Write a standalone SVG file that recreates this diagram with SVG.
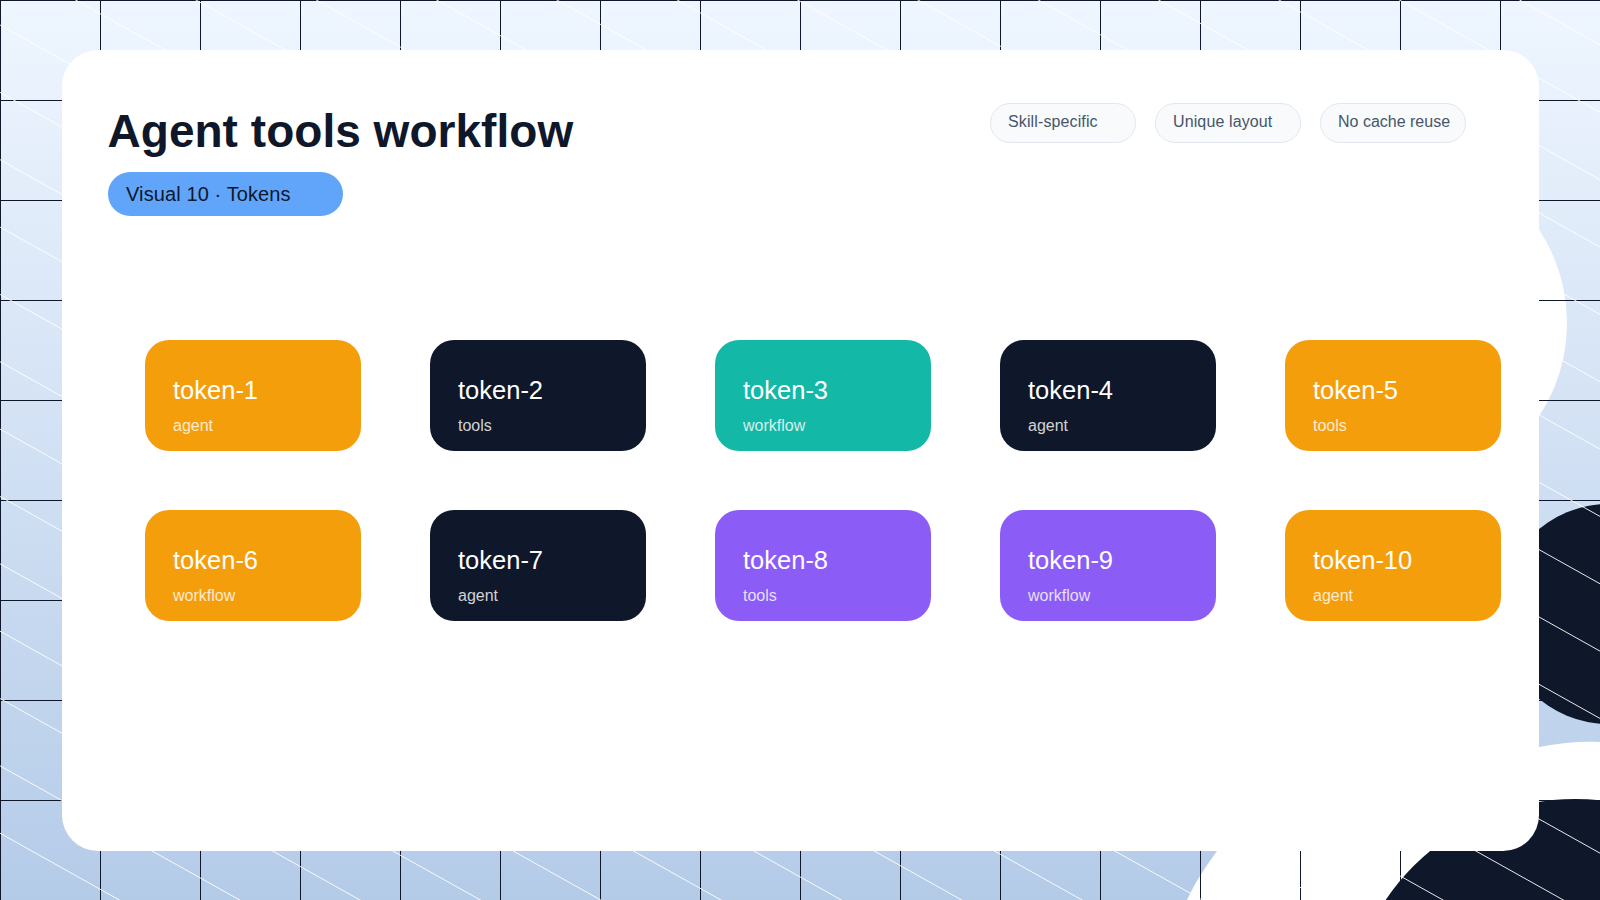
<svg xmlns="http://www.w3.org/2000/svg" width="1600" height="900" viewBox="0 0 1600 900">
<style>
text{font-family:"Liberation Sans",Arial,sans-serif}
.title{font-size:46px;font-weight:700;fill:#0f172a;letter-spacing:.03px}
.badge{font-size:20px;fill:#0f172a;letter-spacing:.11px}
.chip rect{fill:#f8fafc;stroke:#e2e8f0;stroke-width:1}
.chip text{font-size:16px;fill:#475569;letter-spacing:.12px}
.token rect{width:216px;height:111px;rx:24px;ry:24px}
.token .name{font-size:25.5px;fill:#fff}
.token .sub{font-size:16px;fill:#fff;fill-opacity:.82}
.orange rect{fill:#f59e0b}
.navy rect{fill:#0f172a}
.teal rect{fill:#14b8a6}
.violet rect{fill:#8b5cf6}
</style>
<defs>
<linearGradient id="bg" x1="0" y1="0" x2="0" y2="1"><stop offset="0" stop-color="#eff6ff"/><stop offset="1" stop-color="#b4cbe8"/></linearGradient>
<pattern id="grid" width="100" height="100" patternUnits="userSpaceOnUse"><path d="M.5 0V100M0 .5H100" fill="none" stroke="#0f172a" stroke-width="1"/></pattern>
</defs>
<g id="background">
<rect width="1600" height="900" fill="url(#bg)"/>
<circle cx="1397" cy="323" r="170" fill="#fff"/>
<circle cx="1609" cy="614" r="110" fill="#0f172a"/>
<path d="M1300 790L1539 747Q1570 741 1600 742V900H1187C1195 882 1205 868 1217 851Z" fill="#fff"/>
<circle cx="1575" cy="1027" r="228" fill="#0f172a"/>
<rect width="1600" height="900" fill="url(#grid)"/>
<path fill="none" stroke="#fff" stroke-width="1" stroke-opacity=".9" d="M0 -917.9L1600 -22.4M0 -850.55L1600 44.95M0 -783.2L1600 112.3M0 -715.85L1600 179.65M0 -648.5L1600 247M0 -581.15L1600 314.35M0 -513.8L1600 381.7M0 -446.45L1600 449.05M0 -379.1L1600 516.4M0 -311.75L1600 583.75M0 -244.4L1600 651.1M0 -177.05L1600 718.45M0 -109.7L1600 785.8M0 -42.35L1600 853.15M0 25L1600 920.5M0 92.35L1600 987.85M0 159.7L1600 1055.2M0 227.05L1600 1122.55M0 294.4L1600 1189.9M0 361.75L1600 1257.25M0 429.1L1600 1324.6M0 496.45L1600 1391.95M0 563.8L1600 1459.3M0 631.15L1600 1526.65M0 698.5L1600 1594M0 765.85L1600 1661.35M0 833.2L1600 1728.7"/>
</g>
<rect id="panel" x="62" y="50" width="1477" height="801" rx="36" ry="36" fill="#fff"/>
<g id="header">
<text class="title" x="107.500" y="147">Agent tools workflow</text>
<g id="badge"><rect x="108" y="172" width="235" height="44" rx="22" ry="22" fill="#60a5fa"/><text class="badge" x="126" y="201">Visual 10 · Tokens</text></g>
</g>
<g id="chip-1" class="chip"><rect x="990.500" y="103.500" width="145" height="39" rx="19.500"/><text x="1008" y="127">Skill-specific</text></g>
<g id="chip-2" class="chip"><rect x="1155.500" y="103.500" width="145" height="39" rx="19.500"/><text x="1173" y="127">Unique layout</text></g>
<g id="chip-3" class="chip"><rect x="1320.500" y="103.500" width="145" height="39" rx="19.500"/><text x="1338" y="127" style="letter-spacing:0">No cache reuse</text></g>
<g id="token-1" class="token orange"><rect x="145" y="340"/><text class="name" x="173" y="399">token-1</text><text class="sub" x="173" y="431">agent</text></g>
<g id="token-2" class="token navy"><rect x="430" y="340"/><text class="name" x="458" y="399">token-2</text><text class="sub" x="458" y="431">tools</text></g>
<g id="token-3" class="token teal"><rect x="715" y="340"/><text class="name" x="743" y="399">token-3</text><text class="sub" x="743" y="431">workflow</text></g>
<g id="token-4" class="token navy"><rect x="1000" y="340"/><text class="name" x="1028" y="399">token-4</text><text class="sub" x="1028" y="431">agent</text></g>
<g id="token-5" class="token orange"><rect x="1285" y="340"/><text class="name" x="1313" y="399">token-5</text><text class="sub" x="1313" y="431">tools</text></g>
<g id="token-6" class="token orange"><rect x="145" y="510"/><text class="name" x="173" y="569">token-6</text><text class="sub" x="173" y="601">workflow</text></g>
<g id="token-7" class="token navy"><rect x="430" y="510"/><text class="name" x="458" y="569">token-7</text><text class="sub" x="458" y="601">agent</text></g>
<g id="token-8" class="token violet"><rect x="715" y="510"/><text class="name" x="743" y="569">token-8</text><text class="sub" x="743" y="601">tools</text></g>
<g id="token-9" class="token violet"><rect x="1000" y="510"/><text class="name" x="1028" y="569">token-9</text><text class="sub" x="1028" y="601">workflow</text></g>
<g id="token-10" class="token orange"><rect x="1285" y="510"/><text class="name" x="1313" y="569">token-10</text><text class="sub" x="1313" y="601">agent</text></g>
</svg>
